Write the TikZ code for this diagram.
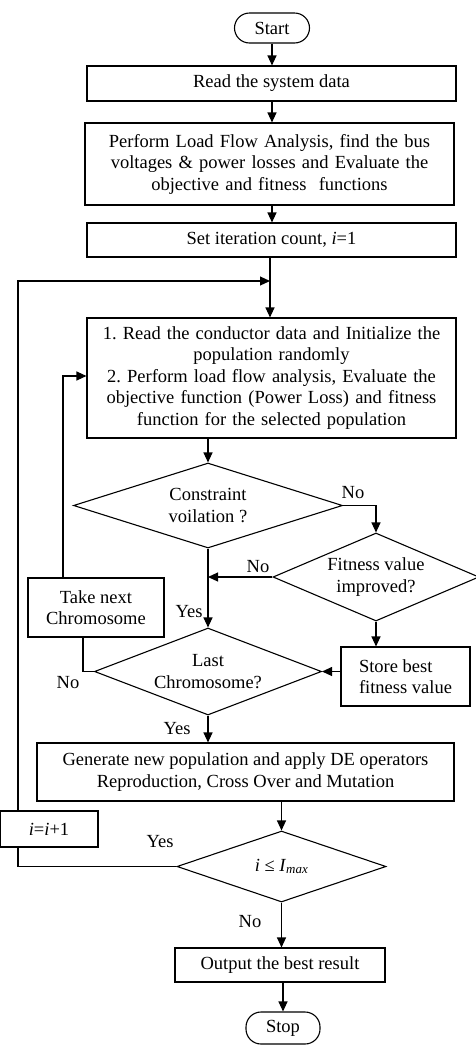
\documentclass[tikz,border=0pt]{standalone}
\usepackage{fontspec}
\setmainfont{Liberation Serif}
\usetikzlibrary{shapes.geometric,arrows.meta}
\frenchspacing
\begin{document}
\begin{tikzpicture}[x=1pt,y=-1pt,
  every node/.style={font=\fontsize{18.5}{21.5}\selectfont, inner sep=0pt},
  box/.style={draw, rectangle, align=center, line width=1.1pt},
  term/.style={draw, rectangle, rounded corners=15pt, line width=1.1pt},
  dia/.style={draw, diamond, align=center, line width=1.1pt},
  ln/.style={line width=1.1pt},
  arr/.style={line width=1.1pt, -{Triangle[length=10pt,width=9pt]}},
  lbl/.style={}]
\useasboundingbox (0,0) rectangle (476,1058);
\begin{scope}
\clip (0,0) rectangle (476,1058);
\node[term, minimum width=75pt, minimum height=30pt] (start) at (272,28) {Start};
\node[box, minimum width=369pt, minimum height=35pt] (read) at (271.5,83.5) {Read the system data};
\node[box, minimum width=369pt, minimum height=82pt, text width=360pt] (lfa) at (269.5,164) {Perform Load Flow Analysis, find the bus\\ voltages \& power losses and Evaluate the\\ objective and fitness\ \ functions};
\node[box, minimum width=369pt, minimum height=34pt] (iter) at (271.5,240) {Set iteration count, \textit{i}=1};
\node[box, minimum width=369pt, minimum height=120pt, text width=360pt] (init) at (271.5,378) {1. Read the conductor data and Initialize the\\ population randomly\\ 2. Perform load flow analysis, Evaluate the\\ objective function (Power Loss) and fitness\\ function for the selected population};
\node[dia, minimum width=269pt, minimum height=85pt, aspect=3.2] (d1) at (208,505.5) {Constraint\\ voilation ?};
\node[dia, minimum width=206pt, minimum height=88pt, aspect=2.34] (d2) at (376,577) {Fitness value\\ improved?};
\node[dia, minimum width=227pt, minimum height=87pt, aspect=2.6] (d3) at (208,671.5) {Last\\ Chromosome?};
\node[box, minimum width=129pt, minimum height=59pt, align=left] (store) at (405.5,676.5) {Store best\\ fitness value};
\node[box, minimum width=136pt, minimum height=59pt] (next) at (96,607.5) {Take next\\ Chromosome};
\node[box, minimum width=417pt, minimum height=58pt] (gen) at (245.5,772) {Generate new population and apply DE operators\\ Reproduction, Cross Over and Mutation};
\node[box, minimum width=98pt, minimum height=36pt] (inc) at (49,829) {\textit{i}=\textit{i}+1};
\node[dia, minimum width=209pt, minimum height=71pt, aspect=2.9] (d4) at (281.5,866.5) {\textit{i} ≤ \textit{I}\textsubscript{\textit{max}}};
\node[box, minimum width=210pt, minimum height=34pt] (out) at (280,965) {Output the best result};
\node[term, minimum width=74pt, minimum height=32pt] (stop) at (283,1028) {Stop};

\coordinate (join) at (270,281);
\coordinate (cx) at (272,0);
\coordinate (lx) at (18,0);
\coordinate (nx) at (83,0);
\coordinate (tx) at (63,0);

\draw[arr] (start.south -| cx) -- (read.north -| cx);
\draw[arr] (read.south -| cx) -- (lfa.north -| cx);
\draw[arr] (lfa.south -| cx) -- (iter.north -| cx);
\draw[arr] (iter.south -| join) -- (init.north -| join);
\draw[arr] (inc.north -| lx) -- (lx |- join) -- (join);
\draw[ln] (d4.west) -- (d4.west -| lx) -- (inc.south -| lx);
\draw[arr] (init.south -| d1.north) -- (d1.north);
\draw[arr] (d1.east) -| (d2.north);
\draw[arr] (d2.west) -- (d2.west -| d1.south);
\draw[arr] (d1.south) -- (d3.north);
\draw[arr] (d2.south) -- (d2.south |- store.north);
\draw[arr] (store.west |- d3.east) -- (d3.east);
\draw[ln] (d3.west) -- (d3.west -| nx) -- (next.south -| nx);
\draw[arr] (next.north -| tx) -- (tx |- 0,376) -- (init.west |- 0,376);
\draw[arr] (d3.south) -- (d3.south |- gen.north);
\draw[arr] (gen.south -| d4.north) -- (d4.north);
\draw[arr] (d4.south) -- (d4.south |- out.north);
\draw[arr] (out.south -| stop.north) -- (stop.north);

\node[lbl] (l1) at (353,493) {No};
\node[lbl] (l2) at (258,567) {No};
\node[lbl] (l3) at (189,612) {Yes};
\node[lbl] (l4) at (68,683) {No};
\node[lbl] (l5) at (177,729) {Yes};
\node[lbl] (l6) at (160,842) {Yes};
\node[lbl] (l7) at (250,922) {No};
\end{scope}
\end{tikzpicture}
\end{document}
